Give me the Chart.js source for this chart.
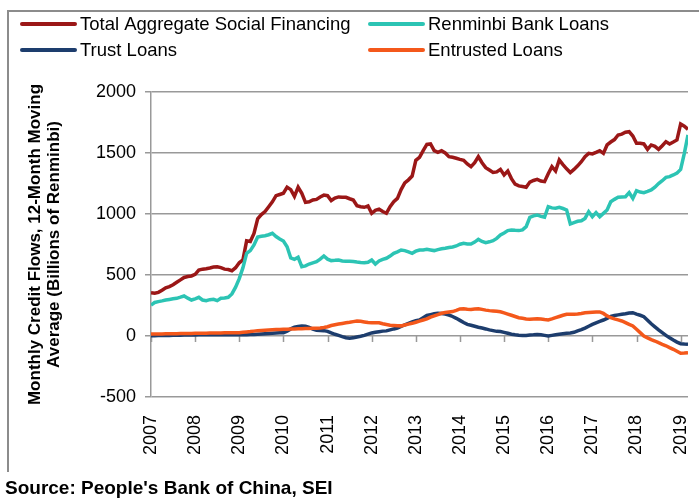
<!DOCTYPE html>
<html>
<head>
<meta charset="utf-8">
<script src="https://cdn.jsdelivr.net/npm/chart.js@4/dist/chart.umd.min.js"></script>
<style>
  html, body { margin: 0; padding: 0; background: #fff; }
  canvas { display: block; }
</style>
</head>
<body>
<canvas id="creditChart" width="699" height="499"></canvas>
<script>
// monthly values, first entry is January 2007
const startYear = 2007;
const yearTicks = [2007, 2008, 2009, 2010, 2011, 2012, 2013, 2014, 2015, 2016, 2017, 2018, 2019];

const seriesNames = ['Total Aggregate Social Financing', 'Renminbi Bank Loans', 'Trust Loans', 'Entrusted Loans'];

const totalFinancing = [
    355, 350, 358, 375, 395, 405, 420, 440, 460, 480, 488, 492,
    505, 540, 548, 552, 558, 565, 568, 560, 548, 545, 535, 560,
    600, 625, 780, 775, 840, 960, 995, 1020, 1060, 1100, 1150, 1160,
    1170, 1220, 1200, 1145, 1220, 1170, 1095, 1100, 1115, 1120, 1140, 1155,
    1150, 1110, 1130, 1140, 1138, 1137, 1125, 1115, 1068, 1060, 1055, 1066,
    1006, 1030, 1040, 1020, 1006, 1060, 1100, 1128, 1200, 1255, 1280, 1311,
    1440, 1465, 1520, 1570, 1574, 1520, 1505, 1519, 1500, 1470, 1465, 1457,
    1448, 1440, 1410, 1388, 1420, 1470, 1420, 1380, 1360, 1340, 1345, 1366,
    1320, 1352, 1290, 1245, 1230, 1225, 1219, 1262, 1275, 1284, 1270, 1265,
    1330, 1388, 1352, 1443, 1405, 1370, 1340, 1365, 1395, 1429, 1470, 1497,
    1492, 1505, 1519, 1497, 1566, 1590, 1610, 1648, 1655, 1670, 1675, 1639,
    1580, 1579, 1574, 1530, 1566, 1555, 1530, 1560, 1593, 1574, 1590, 1607,
    1738, 1720, 1694
];

const bankLoans = [
    254, 275, 282, 288, 295, 300, 305, 309, 318, 328, 310, 295,
    305, 317, 295, 290, 298, 301, 290, 309, 312, 317, 345, 400,
    470, 560, 678, 700, 746, 812, 818, 822, 830, 842, 815, 795,
    778, 732, 640, 628, 645, 568, 575, 590, 600, 609, 630, 656,
    630, 618, 620, 623, 615, 612, 612, 610, 606, 603, 601, 605,
    623, 590, 615, 628, 637, 655, 678, 690, 705, 700, 690, 678,
    695, 705, 705, 710, 705, 700, 708, 715, 719, 725, 730, 738,
    752, 760, 755, 754, 770, 792, 775, 765, 772, 781, 800, 828,
    845, 864, 869, 866, 864, 870, 896, 973, 985, 992, 980, 973,
    1060, 1050, 1047, 1055, 1045, 1033, 918, 930, 940, 945, 964, 1019,
    978, 1011, 978, 1005, 1033, 1100, 1120, 1137, 1140, 1142, 1175, 1128,
    1191, 1180, 1175, 1185, 1197, 1220, 1250, 1273, 1300, 1306, 1320, 1335,
    1366, 1497, 1648
];

const trustLoans = [
    3, 3, 4, 4, 5, 5, 6, 6, 7, 8, 8, 9,
    9, 10, 10, 10, 11, 11, 11, 11, 10, 10, 10, 10,
    10, 11, 11, 12, 13, 15, 17, 19, 21, 23, 25, 26,
    27, 40, 58, 72, 78, 82, 80, 70, 56, 48, 46, 44,
    38, 25, 14, 5, -5, -14, -19, -15, -8, -2, 5, 15,
    25, 30, 35, 40, 42, 50, 58, 65, 78, 92, 104, 115,
    125, 131, 150, 168, 175, 182, 186, 185, 180, 172, 160, 145,
    128, 110, 95, 88, 80, 72, 65, 58, 50, 44, 38, 36,
    30, 22, 14, 10, 7, 5, 5, 8, 10, 13, 10, 5,
    0, 5, 10, 14, 18, 22, 25, 30, 42, 52, 65, 80,
    95, 108, 120, 131, 145, 160, 168, 173, 178, 182, 188, 191,
    180, 170, 158, 130, 100, 75, 50, 27, 5, -15, -33, -50,
    -63, -66, -68
];

const entrustedLoans = [
    16, 16, 17, 17, 18, 18, 19, 19, 20, 20, 21, 21,
    22, 22, 23, 23, 24, 24, 25, 25, 26, 26, 26, 27,
    27, 30, 33, 36, 40, 44, 46, 48, 50, 52, 53, 54,
    55, 56, 57, 58, 59, 60, 61, 62, 63, 64, 66, 70,
    76, 86, 92, 98, 103, 108, 112, 118, 123, 120, 115, 110,
    108, 108, 108, 100, 94, 88, 86, 84, 83, 90, 97, 104,
    113, 122, 131, 140, 155, 165, 175, 186, 192, 197, 200, 210,
    222, 224, 220, 218, 222, 224, 218, 212, 208, 205, 202, 198,
    190, 180, 170, 160, 150, 145, 140, 137, 140, 142, 140, 135,
    131, 140, 150, 160, 170, 178, 178, 178, 180, 185, 191, 193,
    195, 197, 197, 185, 165, 150, 140, 132, 123, 110, 95, 82,
    55, 28, 0, -15, -30, -41, -55, -68, -80, -95, -109, -125,
    -142, -140, -137
];

const seriesColors = ['#9b1717', '#2cc4b4', '#1d3d6d', '#f4581b'];
const gridColor = '#999999';
const fontFamily = '"Liberation Sans", Arial, sans-serif';

function toPoints(values) {
    return values.map((v, i) => ({ x: startYear + i / 12, y: v }));
}

const allSeries = [totalFinancing, bankLoans, trustLoans, entrustedLoans];
const lastMonth = startYear + (totalFinancing.length - 1) / 12;

// legend laid out in two fixed columns, plus frame, source note and year ticks on the zero line
const decorations = {
    id: 'decorations',
    beforeDatasetsDraw(chart) {
        const { ctx, scales: { x, y } } = chart;
        const y0 = y.getPixelForValue(0);
        ctx.save();
        ctx.strokeStyle = gridColor;
        ctx.lineWidth = 1.5;
        ctx.beginPath();
        yearTicks.forEach(yr => {
            const px = Math.round(x.getPixelForValue(yr)) + 0.5;
            ctx.moveTo(px, y0);
            ctx.lineTo(px, y0 + 6);
        });
        ctx.stroke();
        ctx.restore();
    },
    afterDraw(chart) {
        const ctx = chart.ctx;
        ctx.save();

        ctx.strokeStyle = '#8c8c8c';
        ctx.lineWidth = 2;
        ctx.beginPath();
        ctx.moveTo(8, 472);
        ctx.lineTo(8, 11);
        ctx.lineTo(699, 11);
        ctx.stroke();

        const slots = [[22, 24], [370, 24], [22, 50], [370, 50]];
        ctx.font = '18.5px ' + fontFamily;
        ctx.textBaseline = 'middle';
        ctx.fillStyle = '#000';
        chart.data.datasets.forEach((ds, i) => {
            const [lx, ly] = slots[i];
            ctx.strokeStyle = ds.borderColor;
            ctx.lineWidth = 4;
            ctx.lineCap = 'round';
            ctx.beginPath();
            ctx.moveTo(lx, ly);
            ctx.lineTo(lx + 53, ly);
            ctx.stroke();
            ctx.fillText(ds.label, lx + 58, ly + 1);
        });

        ctx.font = 'bold 19px ' + fontFamily;
        ctx.textBaseline = 'alphabetic';
        ctx.fillText("Source: People's Bank of China, SEI", 5, 494);
        ctx.restore();
    }
};

new Chart(document.getElementById('creditChart'), {
    type: 'line',
    data: {
        datasets: allSeries.map((values, i) => ({
            label: seriesNames[i],
            data: toPoints(values),
            borderColor: seriesColors[i],
            backgroundColor: seriesColors[i],
            borderWidth: 3.5,
            pointRadius: 0,
            tension: 0,
            order: 3 - i
        }))
    },
    options: {
        responsive: false,
        animation: false,
        events: [],
        layout: { padding: { left: 26, top: 92, right: 11, bottom: 0 } },
        plugins: {
            legend: { display: false },
            tooltip: { enabled: false }
        },
        scales: {
            x: {
                type: 'linear',
                min: startYear,
                max: lastMonth,
                grid: { display: false },
                border: { display: false },
                afterBuildTicks(scale) {
                    scale.ticks = yearTicks.map(v => ({ value: v }));
                },
                afterFit(scale) {
                    scale.height = 102;
                    scale.paddingLeft = 0;
                    scale.paddingRight = 0;
                },
                ticks: {
                    minRotation: 90,
                    maxRotation: 90,
                    padding: 10,
                    color: '#000',
                    font: { family: fontFamily, size: 18 },
                    callback: v => String(v)
                }
            },
            y: {
                min: -500,
                max: 2000,
                grid: {
                    color: gridColor,
                    lineWidth: 1.5,
                    drawTicks: true,
                    tickLength: 6
                },
                border: { color: gridColor, width: 1.5 },
                afterFit(scale) {
                    scale.width = 125;
                    scale.paddingTop = 0;
                    scale.paddingBottom = 0;
                },
                ticks: {
                    stepSize: 500,
                    padding: 9,
                    color: '#000',
                    font: { family: fontFamily, size: 18 },
                    callback: v => String(v)
                },
                title: {
                    display: true,
                    text: ['Monthly Credit Flows, 12-Month Moving', 'Average (Billions of Renminbi)'],
                    color: '#000',
                    padding: { top: 0, bottom: 0 },
                    font: { family: fontFamily, size: 17, weight: 'bold', lineHeight: 1.1 }
                }
            }
        }
    },
    plugins: [decorations]
});
</script>
</body>
</html>
